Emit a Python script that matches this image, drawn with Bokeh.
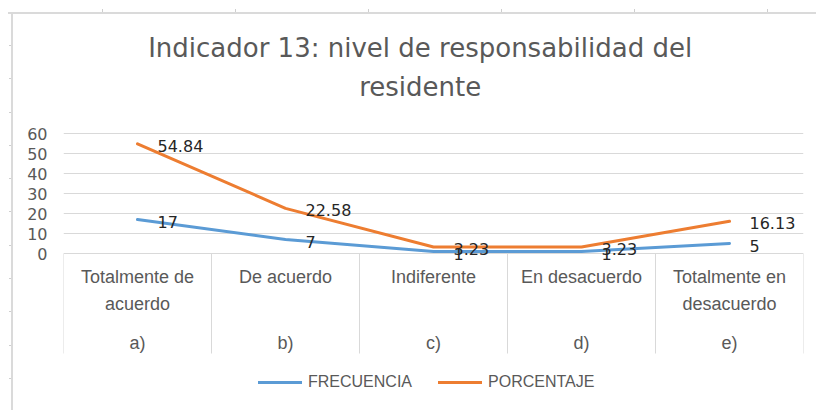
from bokeh.plotting import figure
from bokeh.models import (Range1d, FixedTicker, ColumnDataSource, Legend, LegendItem, Label)
from bokeh.core.properties import value
from bokeh.embed import file_html
from bokeh.resources import INLINE

# ---- data ----
title_lines = ["Indicador 13: nivel de responsabilidad del", "residente"]
categories = ["Totalmente de\nacuerdo", "De acuerdo", "Indiferente", "En desacuerdo", "Totalmente en\ndesacuerdo"]
letters = ["a)", "b)", "c)", "d)", "e)"]
frecuencia = [17, 7, 1, 1, 5]
porcentaje = [54.84, 22.58, 3.23, 3.23, 16.13]
y_ticks = [0, 10, 20, 30, 40, 50, 60]

n = len(categories)
xs = [i + 0.5 for i in range(n)]

GRID = "#D9D9D9"
GRAY = "#595959"
BLUE = "#5B9BD5"
ORANGE = "#ED7D31"

p = figure(width=816, height=410, output_backend="svg", toolbar_location=None,
           x_range=Range1d(0, n), y_range=Range1d(-70, 126.5),
           min_border_left=63, min_border_right=13, min_border_top=0, min_border_bottom=17)
p.outline_line_color = None
p.border_fill_alpha = 0
p.background_fill_alpha = 0
p.styles = {
    "background": (
        "linear-gradient(#DADADA,#DADADA) 8px 12px / 808px 2px no-repeat, "
        "linear-gradient(#DADADA,#DADADA) 11px 12px / 2px 398px no-repeat, "
        "repeating-linear-gradient(to right, #CFCFCF 0 1px, transparent 1px 133px) 102px 9px / 714px 3px no-repeat, "
        "repeating-linear-gradient(to bottom, #CFCFCF 0 1px, transparent 1px 33.3px) 9px 45px / 2px 365px no-repeat, "
        "white"
    )
}
p.xaxis.visible = False
p.xgrid.visible = False
p.ygrid.ticker = FixedTicker(ticks=y_ticks)
p.ygrid.grid_line_color = GRID
p.ygrid.grid_line_width = 1

ax = p.yaxis[0]
ax.ticker = FixedTicker(ticks=y_ticks)
ax.axis_line_color = None
ax.major_tick_line_color = None
ax.minor_tick_line_color = None
ax.major_tick_in = 0
ax.major_tick_out = 0
ax.major_label_standoff = 16
ax.major_label_text_font = "DejaVu Sans"
ax.major_label_text_font_size = "16px"
ax.major_label_text_color = GRAY

# title: two centred lines placed above the plot area
for txt, ty in zip(title_lines, [103, 83.5]):
    p.add_layout(Label(x=2.41, y=ty, text=txt, text_align="center", text_baseline="alphabetic",
                       text_font="DejaVu Sans", text_font_size="26px", text_color=GRAY))

# category table separators
seps = list(range(n + 1))
p.segment(x0=seps, y0=[0] * len(seps), x1=seps, y1=[-50] * len(seps), line_color=GRID, line_width=1)

# category labels
cat_src = ColumnDataSource(dict(x=xs, y=[-6.5] * n, t=categories))
p.text(x="x", y="y", text="t", source=cat_src, text_align="center", text_baseline="top",
       text_font=value("Liberation Sans"), text_font_size="18px", text_color=GRAY,
       text_line_height=1.39)
let_src = ColumnDataSource(dict(x=xs, y=[-44.5] * n, t=letters))
p.text(x="x", y="y", text="t", source=let_src, text_align="center", text_baseline="middle",
       text_font=value("Liberation Sans"), text_font_size="18px", text_color=GRAY)

# lines
src = ColumnDataSource(dict(x=xs, f=frecuencia, pc=porcentaje,
                            fl=[str(v) for v in frecuencia],
                            pl=["%.2f" % v for v in porcentaje]))
r1 = p.line("x", "f", source=src, line_color=BLUE, line_width=3, line_join="round", line_cap="round")
r2 = p.line("x", "pc", source=src, line_color=ORANGE, line_width=3, line_join="round", line_cap="round")

# data labels
for col, ycol in (("fl", "f"), ("pl", "pc")):
    p.text(x="x", y=ycol, text=col, source=src, x_offset=20, y_offset=2,
           text_align="left", text_baseline="middle",
           text_font=value("DejaVu Sans"), text_font_size="16px", text_color="#262626")

legend = Legend(items=[LegendItem(label="FRECUENCIA", renderers=[r1]),
                       LegendItem(label="PORCENTAJE", renderers=[r2])],
                orientation="horizontal", location=(195, 1),
                padding=0, margin=0, spacing=26, label_standoff=6,
                glyph_width=44, glyph_height=20,
                label_text_font="Liberation Sans", label_text_font_size="16px",
                label_text_color=GRAY, border_line_color=None, background_fill_alpha=0)
p.add_layout(legend, "center")

open("out.html", "w").write(file_html(p, INLINE))
